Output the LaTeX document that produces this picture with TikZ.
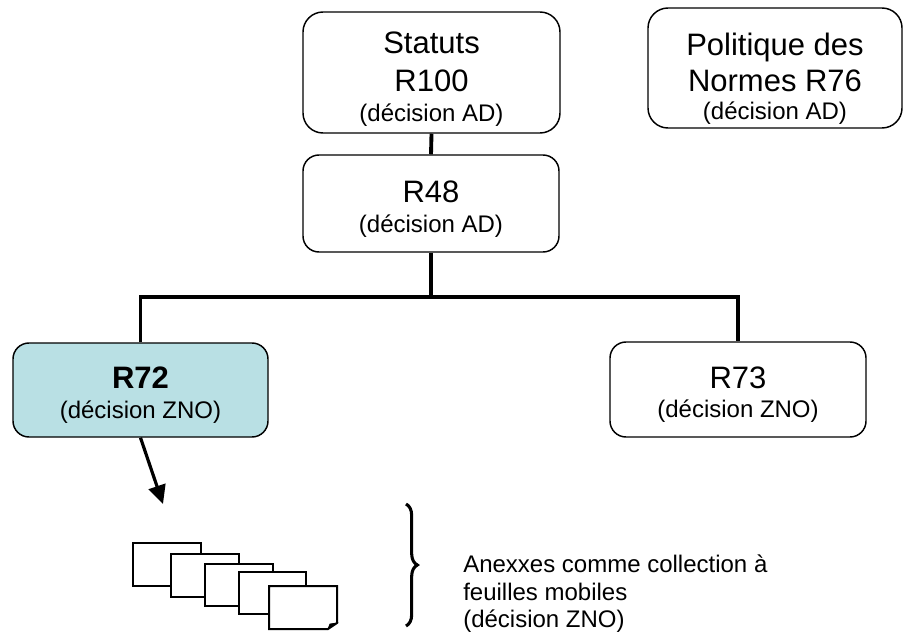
\documentclass[tikz,border=0pt]{standalone}
\usepackage{fontspec}
\setmainfont{Liberation Sans}
\usetikzlibrary{arrows.meta,decorations.pathreplacing}
\definecolor{lightteal}{RGB}{185,224,228}
\tikzset{
  box/.style={draw=black, line width=1.1pt, rounded corners=12pt, fill=white, inner sep=0pt},
  bigbox/.style={box, rounded corners=15pt},
  bigtxt/.style={anchor=base, inner sep=0pt, font=\fontsize{23.25pt}{28pt}\selectfont},
  smalltxt/.style={anchor=base, inner sep=0pt, font=\fontsize{18pt}{22pt}\selectfont},
  conn/.style={draw=black, line width=2.9pt, line join=miter},
  arr/.style={draw=black, line width=2.4pt, -{Triangle[length=14pt,width=13pt]}},
  sheet/.style={draw=black, fill=white, line width=1.5pt},
}
\begin{document}
\begin{tikzpicture}[x=0.75pt,y=-0.75pt]
\fill[white] (0,0) rectangle (909,632);
\useasboundingbox (0,0) rectangle (909,632);

% boxes
\node[bigbox, minimum width=192.75pt, minimum height=90.75pt] (statuts) at (431.5,72.5) {};
\node[bigbox, minimum width=190.5pt, minimum height=90pt] (politique) at (775,68) {};
\node[box, minimum width=192pt, minimum height=72.75pt] (r48) at (431,203.5) {};
\node[box, fill=lightteal, minimum width=191.25pt, minimum height=70.5pt] (r72) at (140.5,390) {};
\node[box, minimum width=192pt, minimum height=71.25pt] (r73) at (738,389.5) {};

% texts
\node[bigtxt] (t1a) at (431.5,53) {Statuts};
\node[bigtxt] (t1b) at (431.5,91) {R100};
\node[smalltxt] (t1c) at (431.5,121) {(décision AD)};
\node[bigtxt] (t2a) at (775,55) {Politique des};
\node[bigtxt] (t2b) at (775,91) {Normes R76};
\node[smalltxt] (t2c) at (775,119) {(décision AD)};
\node[bigtxt] (t3a) at (431,202) {R48};
\node[smalltxt] (t3b) at (431,232) {(décision AD)};
\node[bigtxt, font=\fontsize{23.25pt}{28pt}\selectfont\bfseries] (t4a) at (140.5,388) {R72};
\node[smalltxt] (t4b) at (140.5,418) {(décision ZNO)};
\node[bigtxt] (t5a) at (738,388) {R73};
\node[smalltxt] (t5b) at (738,417) {(décision ZNO)};

% connectors
\coordinate (bus) at (431,297);
\draw[conn] (statuts.south) -- (r48.north);
\draw[conn] (r48.south) -- (r48.south |- bus);
\draw[conn] (r72.north) -- (r72.north |- bus) -- (r73.north |- bus) -- (r73.north);

% arrow
\coordinate (tip) at (163,504);
\draw[arr] (r72.south) -- (tip);

% sheets
\filldraw[sheet] (133,543) rectangle (201,586);
\filldraw[sheet] (171,554) rectangle (239,597);
\filldraw[sheet] (205,564) rectangle (273,606);
\filldraw[sheet] (239,572) rectangle (306,614);
\filldraw[sheet] (269,586) -- (337,586) -- (337,623) -- (328,629) -- (269,629) -- cycle;
\filldraw[black, line width=0.6pt] (328,629) -- (330,624) -- (337,623) -- cycle;

% brace
\draw[line width=2.3pt, decorate, decoration={brace, amplitude=8.5pt}] (406,504) -- (406,626);

% annex text
\node[smalltxt, anchor=base west] (ann1) at (463,572) {Anexxes comme collection à};
\node[smalltxt, anchor=base west] (ann2) at (463,600) {feuilles mobiles};
\node[smalltxt, anchor=base west] (ann3) at (463,627) {(décision ZNO)};
\end{tikzpicture}
\end{document}
